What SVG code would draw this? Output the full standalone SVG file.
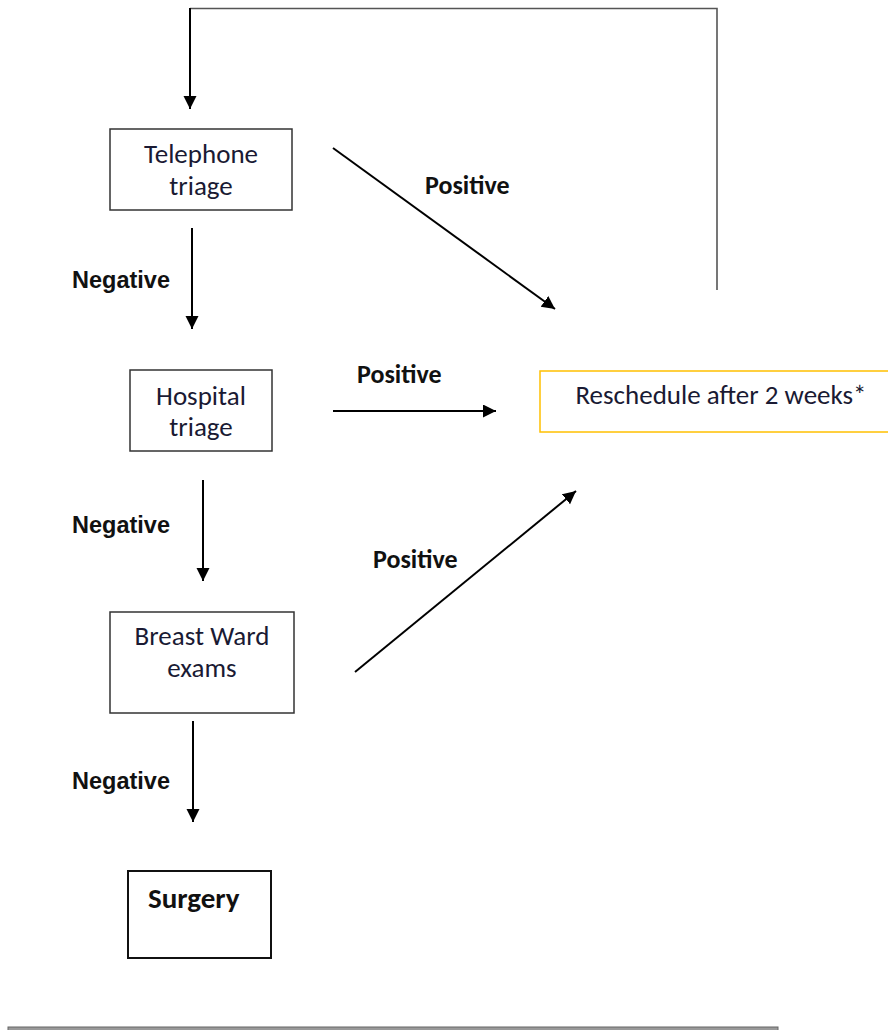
<svg xmlns="http://www.w3.org/2000/svg" width="888" height="1030" viewBox="0 0 888 1030">
<style>
.box{fill:#fff;stroke:#333;stroke-width:1.5}
.gold{fill:#fff;stroke:#FFC000;stroke-width:1.5}
.bt{font-family:"Carlito","Lato","Open Sans",sans-serif;font-size:27px;fill:#1a1a33;text-anchor:middle}
.pos{font-family:"Carlito","Lato","Open Sans",sans-serif;font-size:26px;font-weight:bold;fill:#111}
.neg{font-family:"Liberation Sans",Arial,sans-serif;font-size:23.5px;font-weight:bold;fill:#111}
.arr{stroke:#000;stroke-width:2;fill:none;marker-end:url(#ah)}
.loop{stroke:#555;stroke-width:1.6;fill:none}
</style>
<defs>
<marker id="ah" markerUnits="userSpaceOnUse" markerWidth="14" markerHeight="14" refX="13" refY="6.5" orient="auto">
<path d="M0,0 L13,6.5 L0,13 z" fill="#000"/>
</marker>
</defs>
<rect width="888" height="1030" fill="#fff"/>
<g id="connectors">
<polyline class="loop" points="717,290 717,8.5 190,8.5"/>
<line class="arr" x1="190" y1="8" x2="190" y2="109"/>
<line class="arr" x1="333" y1="148" x2="555" y2="309"/>
<line class="arr" x1="192" y1="228" x2="192" y2="329"/>
<line class="arr" x1="333" y1="411" x2="496" y2="411"/>
<line class="arr" x1="203" y1="480" x2="203" y2="581"/>
<line class="arr" x1="355" y1="672" x2="576" y2="491"/>
<line class="arr" x1="193" y1="721" x2="193" y2="822"/>
<text class="pos" x="425" y="194">Positive</text>
<text class="neg" x="72" y="288">Negative</text>
<text class="pos" x="357" y="383">Positive</text>
<text class="neg" x="72" y="533">Negative</text>
<text class="pos" x="373" y="568">Positive</text>
<text class="neg" x="72" y="789">Negative</text>
</g>
<g id="telephone">
<rect class="box" x="110" y="129" width="182" height="81"/>
<text class="bt" x="201" y="163">Telephone</text>
<text class="bt" x="201" y="195">triage</text>
</g>
<g id="hospital">
<rect class="box" x="130" y="370" width="142" height="81"/>
<text class="bt" x="201" y="405">Hospital</text>
<text class="bt" x="201" y="436">triage</text>
</g>
<g id="reschedule">
<rect class="gold" x="540" y="371" width="360" height="61"/>
<text class="bt" x="721" y="404">Reschedule after 2 weeks*</text>
</g>
<g id="breast">
<rect class="box" x="110" y="612" width="184" height="101"/>
<text class="bt" x="202" y="645">Breast Ward</text>
<text class="bt" x="202" y="677">exams</text>
</g>
<g id="surgery">
<rect class="box" x="128" y="871" width="143" height="87" style="stroke:#111;stroke-width:2"/>
<text class="pos" x="148" y="908" style="font-size:29px">Surgery</text>
</g>
<rect x="8" y="1027" width="770" height="6" fill="#999" stroke="#666" stroke-width="1"/>
</svg>
